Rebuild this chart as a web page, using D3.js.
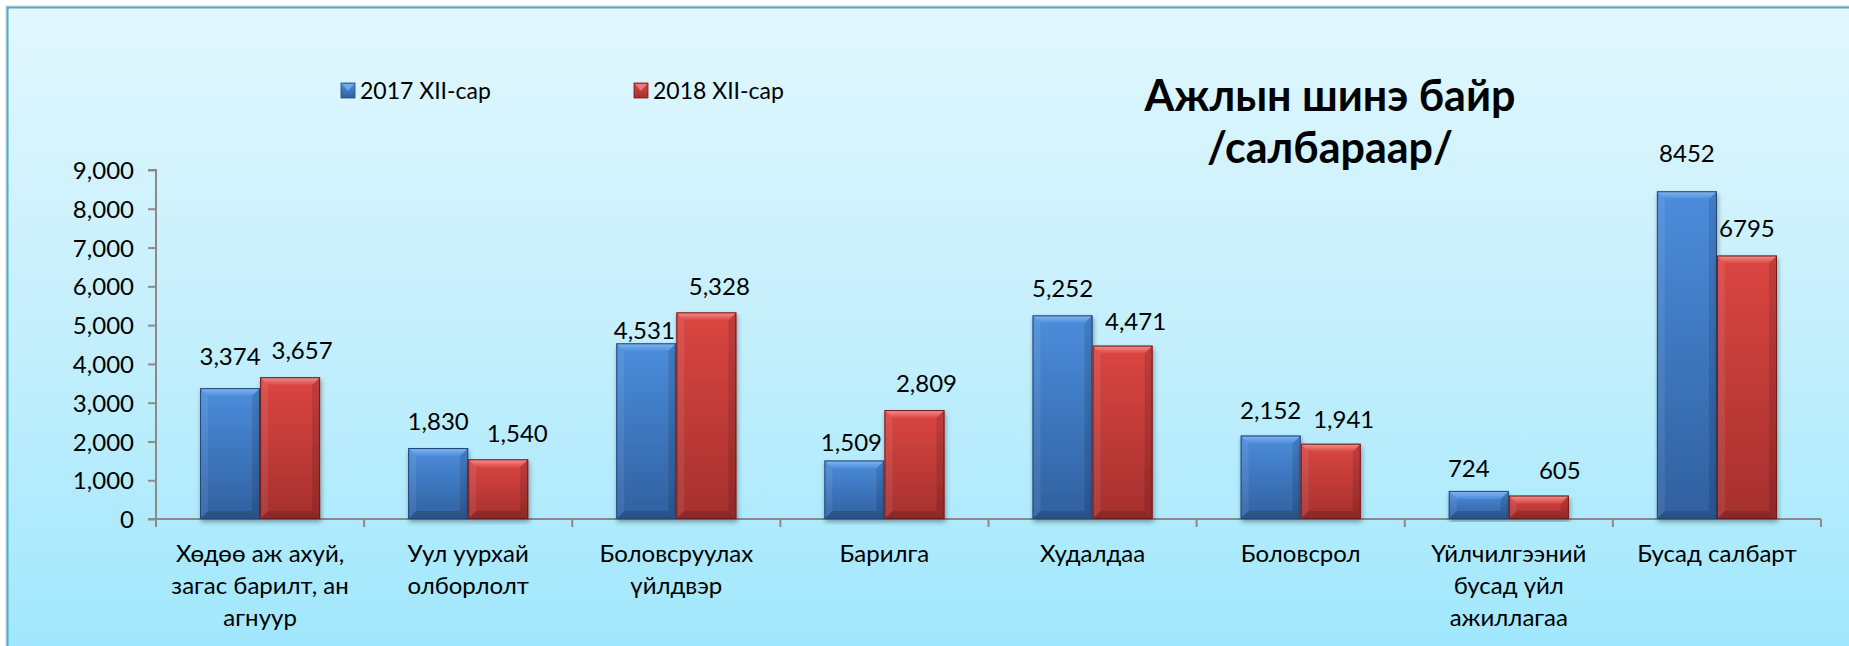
<!DOCTYPE html>
<html><head><meta charset="utf-8">
<script src="https://cdn.jsdelivr.net/npm/d3@7"></script>
<style>
body{margin:0;background:#fff}
svg{display:block}
text{font-family:Lato,"Noto Sans",sans-serif;fill:#000}
</style>
</head><body>
<svg id="c" width="1849" height="646"></svg>
<script>
// ---- data ----
const categories = [
  "Хөдөө аж ахуй,\nзагас барилт, ан\nагнуур",
  "Уул уурхай\nолборлолт",
  "Боловсруулах\nүйлдвэр",
  "Барилга",
  "Худалдаа",
  "Боловсрол",
  "Үйлчилгээний\nбусад үйл\nажиллагаа",
  "Бусад салбарт"
];
const seriesNames = ["2017 XII-сар", "2018 XII-сар"];
const values2017 = [3374, 1830, 4531, 1509, 5252, 2152, 724, 8452];
const values2018 = [3657, 1540, 5328, 2809, 4471, 1941, 605, 6795];
const yTicks = [0, 1000, 2000, 3000, 4000, 5000, 6000, 7000, 8000, 9000];
const titleLines = ["Ажлын шинэ байр", "/салбараар/"];
// labels of the last category were typed without thousands separator
const plainLabelCategory = "Бусад салбарт";

// ---- layout (not data) ----
const W = 1849, H = 646;
const plot = {left: 156, right: 1821, top: 170, bottom: 519};
// manual label nudges (pixels) as placed in the original
const labelLift = [[32, 27, 13, 18, 27, 26, 23, 38], [27, 26, 26, 27, 25, 25, 26, 28]];
const labelShift = [[0, 0, -2, -3, 0, 0, -10, 0], [12, 19, 13, 12, 13, 13, 21, 0]];

const svg = d3.select("#c");
const defs = svg.append("defs");

// background gradient
const bg = defs.append("linearGradient").attr("id", "bg").attr("x1", 0).attr("y1", 0).attr("x2", 0).attr("y2", 1);
bg.append("stop").attr("offset", "0%").attr("stop-color", "#e1f7fd");
bg.append("stop").attr("offset", "50%").attr("stop-color", "#c4effc");
bg.append("stop").attr("offset", "100%").attr("stop-color", "#9fe7fd");

const colors = [
  {top: "#4b8ddc", bot: "#30609f", edge: "#22467a", light: "#85b8f0"},
  {top: "#db4642", bot: "#a5302d", edge: "#6e1b19", light: "#f09490"}
];
colors.forEach((c, i) => {
  const g = defs.append("linearGradient").attr("id", "bar" + i).attr("x1", 0).attr("y1", 0).attr("x2", 0).attr("y2", 1);
  g.append("stop").attr("offset", "0%").attr("stop-color", c.top);
  g.append("stop").attr("offset", "100%").attr("stop-color", c.bot);
  const t = defs.append("linearGradient").attr("id", "bev" + i).attr("x1", 0).attr("y1", 0).attr("x2", 0).attr("y2", 1);
  t.append("stop").attr("offset", "0%").attr("stop-color", c.light);
  t.append("stop").attr("offset", "100%").attr("stop-color", c.top);
});
const sh = defs.append("filter").attr("id", "shadow").attr("x", "-20%").attr("y", "-5%").attr("width", "140%").attr("height", "115%");
sh.append("feGaussianBlur").attr("in", "SourceAlpha").attr("stdDeviation", 2.5);
sh.append("feOffset").attr("dx", 1).attr("dy", 3).attr("result", "o");
sh.append("feComponentTransfer").append("feFuncA").attr("type", "linear").attr("slope", 0.35);
const mg = sh.append("feMerge");
mg.append("feMergeNode");
mg.append("feMergeNode").attr("in", "SourceGraphic");

svg.append("rect").attr("width", W).attr("height", H).attr("fill", "#fff");
svg.append("rect").attr("x", 5).attr("y", 5).attr("width", W).attr("height", H).attr("fill", "#d8d8d8").attr("opacity", 0.6);
svg.append("rect").attr("x", 7.5).attr("y", 7.5).attr("width", W + 10).attr("height", H + 10)
  .attr("fill", "url(#bg)").attr("stroke", "#4bacc6").attr("stroke-width", 2);

// scales
const x0 = d3.scaleBand().domain(categories).range([plot.left, plot.right]).paddingInner(0.423).paddingOuter(0.2115);
const x1 = d3.scaleBand().domain(seriesNames).range([0, x0.bandwidth()]);
const y = d3.scaleLinear().domain([0, 9000]).range([plot.bottom, plot.top]);

// y axis
const yAxis = d3.axisLeft(y).tickValues(yTicks).tickFormat(d3.format(",")).tickSize(8).tickPadding(14);
const gy = svg.append("g").attr("transform", `translate(${plot.left},0)`).call(yAxis);
gy.select(".domain").attr("stroke", "#8a8a8a").attr("stroke-width", 2).attr("d", `M-8,${plot.top}H0V${plot.bottom}`);
gy.selectAll(".tick line").attr("stroke", "#8a8a8a").attr("stroke-width", 2);
gy.selectAll(".tick text").attr("font-size", 24).attr("font-family", "Lato").attr("fill", "#000").attr("dy", "0.36em");

// x axis
const xAxis = d3.axisBottom(x0).tickSize(0).tickFormat("");
const gx = svg.append("g").attr("transform", `translate(0,${plot.bottom})`).call(xAxis);
gx.select(".domain").attr("stroke", "#8a8a8a").attr("stroke-width", 2).attr("d", `M${plot.left - 8},0H${plot.right}`);
const step = x0.step();
const boundaries = d3.range(categories.length + 1).map(i => x0(categories[0]) - x0.paddingOuter() * step + i * step);
gx.selectAll("line.bnd").data(boundaries).join("line").attr("class", "bnd")
  .attr("x1", d => d).attr("x2", d => d).attr("y1", 0).attr("y2", 8).attr("stroke", "#8a8a8a").attr("stroke-width", 2);

// category labels
categories.forEach(c => {
  const lines = c.split("\n");
  const t = svg.append("text").attr("text-anchor", "middle").attr("font-size", 24)
    .attr("x", x0(c) + x0.bandwidth() / 2).attr("y", 562);
  lines.forEach((l, i) => t.append("tspan").attr("x", x0(c) + x0.bandwidth() / 2).attr("dy", i ? 32 : 0).text(l));
});

// bars
const seriesValues = [values2017, values2018];
const fmtComma = d3.format(",");
seriesValues.forEach((vals, si) => {
  const g = svg.append("g");
  vals.forEach((v, ci) => {
    const cat = categories[ci];
    const bx = x0(cat) + x1(seriesNames[si]);
    const bw = x1.bandwidth();
    const by = y(v);
    const bh = y(0) - y(v);
    const b = Math.min(8, bh / 2);
    const bar = g.append("g").attr("filter", "url(#shadow)");
    bar.append("rect").attr("x", bx).attr("y", by).attr("width", bw).attr("height", bh).attr("fill", `url(#bar${si})`);
    // bevels
    bar.append("path").attr("d", `M${bx},${by}H${bx + bw}L${bx + bw - b},${by + b}H${bx + b}Z`).attr("fill", `url(#bev${si})`);
    bar.append("path").attr("d", `M${bx},${by}L${bx + b},${by + b}V${by + bh - b}L${bx},${by + bh}Z`).attr("fill", "#fff").attr("opacity", 0.08);
    bar.append("path").attr("d", `M${bx + bw},${by}L${bx + bw - b},${by + b}V${by + bh - b}L${bx + bw},${by + bh}Z`).attr("fill", "#000").attr("opacity", 0.12);
    bar.append("path").attr("d", `M${bx},${by + bh}L${bx + b},${by + bh - b}H${bx + bw - b}L${bx + bw},${by + bh}Z`).attr("fill", "#000").attr("opacity", 0.15);
    bar.append("rect").attr("x", bx + 0.5).attr("y", by + 0.5).attr("width", bw - 1).attr("height", bh - 1)
      .attr("fill", "none").attr("stroke", colors[si].edge).attr("stroke-width", 1);
    // value label
    const txt = cat === plainLabelCategory ? String(v) : fmtComma(v);
    svg.append("text").attr("text-anchor", "middle").attr("font-size", 24)
      .attr("x", bx + bw / 2 + labelShift[si][ci]).attr("y", by - labelLift[si][ci] + 9).text(txt);
  });
});

// legend
const legendX = [341, 634];
seriesNames.forEach((s, i) => {
  const lg = svg.append("g").attr("transform", `translate(${legendX[i]},83)`);
  lg.append("rect").attr("width", 14).attr("height", 15).attr("fill", `url(#bar${i})`).attr("stroke", colors[i].edge).attr("stroke-width", 0.8);
  lg.append("path").attr("d", "M1,1H13L7,8Z").attr("fill", colors[i].light).attr("opacity", 0.7);
  lg.append("text").attr("x", 19).attr("y", 15.5).attr("font-size", 23).text(s);
});

// title
const tt = svg.append("text").attr("text-anchor", "middle").attr("font-size", 43).attr("font-weight", "bold");
titleLines.forEach((l, i) => tt.append("tspan").attr("x", 1330).attr("y", 111 + i * 52).text(l));
</script>
</body></html>
